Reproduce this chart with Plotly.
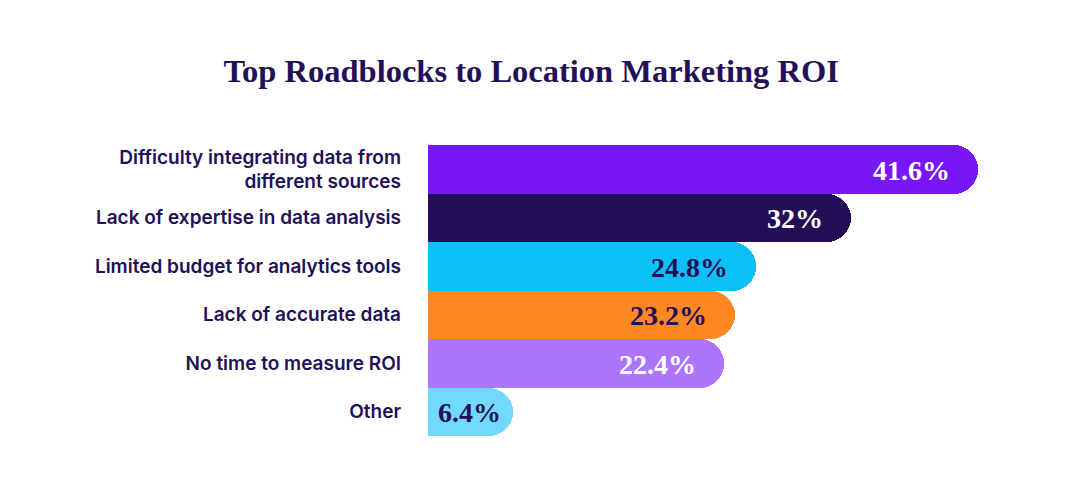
import plotly.graph_objects as go

categories = [
    "Difficulty integrating data from<br>different sources",
    "Lack of expertise in data analysis",
    "Limited budget for analytics tools",
    "Lack of accurate data",
    "No time to measure ROI",
    "Other",
]
values = [41.6, 32, 24.8, 23.2, 22.4, 6.4]
value_labels = ["41.6%", "32%", "24.8%", "23.2%", "22.4%", "6.4%"]
bar_colors = ["#7817F5", "#240F57", "#0BBFF7", "#FF8822", "#AD75FC", "#70D9FC"]
text_colors = ["#FFFFFF", "#FFFFFF", "#231058", "#231058", "#FFFFFF", "#231058"]

navy = "#231058"

fig = go.Figure()
fig.add_trace(go.Bar(
    x=values, y=categories, orientation="h",
    marker=dict(color=bar_colors, cornerradius="50%", line=dict(width=0)),
    hoverinfo="skip",
))

# value labels sit inside the rounded end of each bar;
# short bars get the label pinned to the left instead
for v, lab, col, cat in zip(values, value_labels, text_colors, categories):
    if v < 10:
        pos = dict(x=0, xanchor="left", xshift=8)
    else:
        pos = dict(x=v, xanchor="right", xshift=-26)
    fig.add_annotation(y=cat, text=lab, showarrow=False, yanchor="middle", yshift=-1,
                       font=dict(family="Liberation Serif", size=28, color=col, weight="bold"),
                       **pos)

fig.update_layout(
    width=1072, height=495,
    paper_bgcolor="white", plot_bgcolor="white",
    margin=dict(l=420, r=102, t=137, b=67),
    bargap=0, showlegend=False,
    title=dict(text="Top Roadblocks to Location Marketing ROI", x=0.488, xanchor="center",
               y=0.873, yanchor="middle",
               font=dict(family="Liberation Serif", size=32.5, color=navy, weight="bold")),
)
fig.update_xaxes(range=[0, 41.6], visible=False, fixedrange=True)
fig.update_yaxes(autorange="reversed", showgrid=False, zeroline=False, showline=False,
                 ticks="", ticklabelstandoff=26,
                 tickfont=dict(family="Inter", size=19, color=navy, weight=600))

fig.write_html("out.html")
